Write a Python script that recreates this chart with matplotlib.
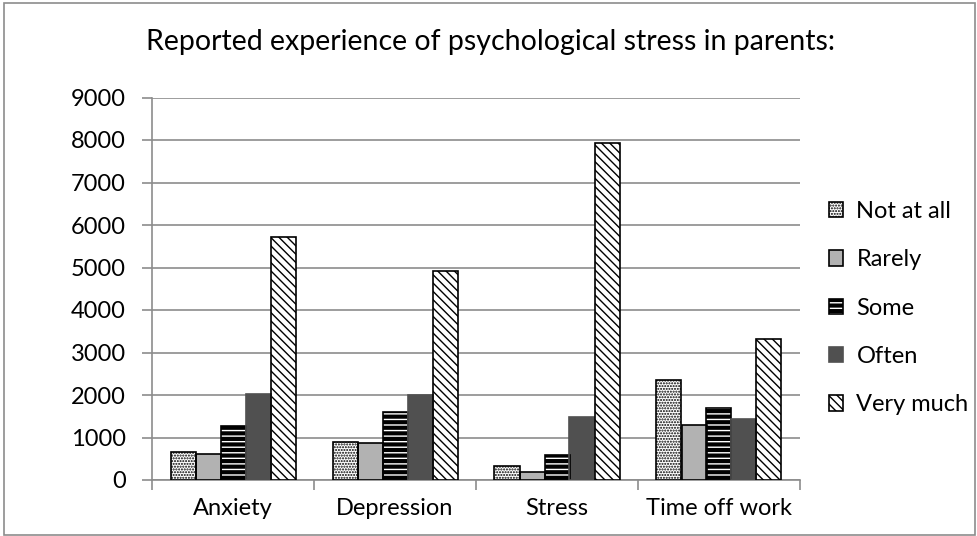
import numpy as np
import matplotlib
matplotlib.use("Agg")
import matplotlib.pyplot as plt
from matplotlib.patches import Rectangle, Patch
from matplotlib.legend_handler import HandlerTuple

plt.rcParams['font.family'] = ['Lato', 'DejaVu Sans']
plt.rcParams['hatch.linewidth'] = 1.0

# data
categories = ["Anxiety", "Depression", "Stress", "Time off work"]
levels = ["Not at all", "Rarely", "Some", "Often", "Very much"]
not_at_all = [660, 900, 320, 2350]
rarely = [610, 880, 180, 1290]
some = [1270, 1590, 580, 1690]
often = [2030, 2000, 1475, 1430]
very_much = [5720, 4920, 7920, 3320]
series = [not_at_all, rarely, some, often, very_much]

# face, hatch, hatch colour, edge
styles = [
    ("white", "......", "black", "black"),
    ("#b2b2b2", None, "black", "black"),
    ("black", "---", "white", "black"),
    ("#505050", None, "#505050", "#505050"),
    ("white", "\\\\\\\\", "black", "black"),
]

W, H = 978, 536
fig = plt.figure(figsize=(W / 100, H / 100), dpi=100)
ax = fig.add_axes([152 / W, 56 / H, 648 / W, 382.5 / H])

x = np.arange(len(categories))
bw = 25 / 162
for i, vals in enumerate(series):
    face, hatch, hcol, edge = styles[i]
    pos = x + (i - 2) * bw
    # fill + hatch (hatch colour comes from edgecolor)
    ax.bar(pos, vals, bw, color=face, hatch=hatch, edgecolor=hcol, linewidth=0, zorder=3)
    # outline
    ax.bar(pos, vals, bw, fill=False, edgecolor=edge, linewidth=1.2, zorder=4)

ax.set_xlim(-0.5, 3.5)
ax.set_ylim(0, 9000)
ax.set_yticks(np.arange(0, 9001, 1000))
ax.yaxis.grid(True, color="#8c8c8c", linewidth=1.2, zorder=0)
ax.set_axisbelow(True)

ax.set_xticks(x)
ax.set_xticklabels(categories)
ax.set_xticks(np.arange(-0.5, 4, 1), minor=True)
ax.tick_params(axis="x", which="major", length=0, pad=13, labelsize=17)
ax.tick_params(axis="x", which="minor", length=7, color="#8c8c8c", width=1.2)
ax.tick_params(axis="y", length=7, color="#8c8c8c", width=1.2, labelsize=17, pad=12)

for s in ["top", "right"]:
    ax.spines[s].set_visible(False)
for s in ["left", "bottom"]:
    ax.spines[s].set_color("#8c8c8c")
    ax.spines[s].set_linewidth(1.2)

fig.text(490 / W, 1 - 42 / H, "Reported experience of psychological stress in parents:",
         ha="center", va="center", fontsize=20.5)

handles = []
for i, lab in enumerate(levels):
    face, hatch, hcol, edge = styles[i]
    handles.append((Patch(facecolor=face, hatch=hatch, edgecolor=hcol, linewidth=0),
                    Patch(fill=False, edgecolor=edge, linewidth=1.2)))
leg = fig.legend(handles=handles, labels=levels, loc="upper left",
                 bbox_to_anchor=(817 / W, 1 - 189 / H),
                 handler_map={tuple: HandlerTuple(ndivide=1, pad=0)},
                 frameon=False, fontsize=17, handlelength=0.62, handleheight=0.62,
                 handletextpad=0.55, labelspacing=1.16, borderpad=0)

# outer chart border
fig.patches.append(Rectangle((4 / W, 1.5 / H), 971 / W, 532 / H, transform=fig.transFigure,
                             fill=False, edgecolor="#8c8c8c", linewidth=1.2))

fig.savefig("out.png", dpi=100)
